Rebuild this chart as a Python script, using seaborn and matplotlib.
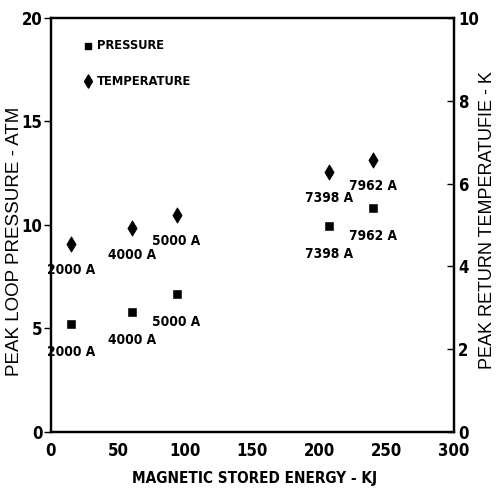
import os
import matplotlib
matplotlib.use("Agg")
import matplotlib.pyplot as plt
import matplotlib.font_manager as fm
import seaborn as sns
import pandas as pd

energy_kj = [15, 60, 93.5, 207, 239.5]
pressure_atm = [5.2, 5.8, 6.65, 9.95, 10.8]
temperature_k = [4.54, 4.92, 5.24, 6.29, 6.57]
currents = ["2000 A", "4000 A", "5000 A", "7398 A", "7962 A"]
x_ticks = [0, 50, 100, 150, 200, 250, 300]
left_ticks = [0, 5, 10, 15, 20]
right_ticks = [0, 2, 4, 6, 8, 10]

sns.set_style("white")
plt.rcParams["font.family"] = ["Liberation Sans", "DejaVu Sans"]
plt.rcParams["text.color"] = "black"

# pick a condensed bold face if one is installed
files = {os.path.basename(f.fname): f.fname for f in fm.fontManager.ttflist}
prefs = ["LiberationSansNarrow-Bold.ttf", "NotoSans-CondensedBold.ttf",
         "DejaVuSansCondensed-Bold.ttf", "RobotoCondensed-Bold.ttf",
         "OpenSans_Condensed-Bold.ttf"]
cond_file = next((files[p] for p in prefs if p in files), None)


def cfont(size):
    if cond_file:
        return fm.FontProperties(fname=cond_file, size=size)
    return fm.FontProperties(family=["Liberation Sans", "DejaVu Sans"],
                             weight="bold", size=size * 0.9)


def pfont(size):
    return fm.FontProperties(family=["Liberation Sans", "DejaVu Sans"], size=size)


df = pd.DataFrame({"energy": energy_kj, "pressure": pressure_atm,
                   "temperature": temperature_k, "current": currents})

fig = plt.figure(figsize=(4.99, 4.94), dpi=100)
ax = fig.add_axes([0.1022, 0.1255, 0.8076, 0.8381])
ax2 = ax.twinx()

sns.scatterplot(data=df, x="energy", y="pressure", marker="s", s=28,
                color="black", edgecolor="black", ax=ax, legend=False, zorder=3)
sns.scatterplot(data=df, x="energy", y="temperature", marker="d", s=60,
                color="black", edgecolor="black", ax=ax2, legend=False, zorder=3)

ax.set_xlim(0, 300)
ax.set_ylim(0, 20)
ax2.set_ylim(0, 10)
ax.set_xticks(x_ticks)
ax.set_yticks(left_ticks)
ax2.set_yticks(right_ticks)

ax.set_xticklabels([str(t) for t in x_ticks], fontproperties=cfont(12))
ax.set_yticklabels([str(t) for t in left_ticks], fontproperties=cfont(12))
ax2.set_yticklabels([str(t) for t in right_ticks], fontproperties=cfont(12))

ax.tick_params(axis="x", direction="in", length=5, width=1, pad=7, colors="black")
ax.tick_params(axis="y", direction="out", length=5, width=1, pad=1, colors="black")
ax2.tick_params(axis="y", direction="in", length=5, width=1, pad=3, colors="black")

for a in (ax, ax2):
    for sp in a.spines.values():
        sp.set_visible(True)
        sp.set_color("black")
        sp.set_linewidth(1.6)

ax.set_xlabel("MAGNETIC STORED ENERGY - KJ", fontproperties=cfont(11),
              color="black", va="center")
ax.xaxis.set_label_coords(0.504, -0.113)
ax.set_ylabel("PEAK LOOP PRESSURE - ATM", fontproperties=pfont(13.5),
              color="black", va="center")
ax.yaxis.set_label_coords(-0.09, 0.461)
ax2.set_ylabel("PEAK RETURN TEMPERATUFIE - K", fontproperties=pfont(13),
               color="black", rotation=90, va="center")
ax2.yaxis.set_label_coords(1.083, 0.512)

for e, p, c in zip(energy_kj, pressure_atm, currents):
    ax.annotate(c, (e, p), xytext=(0, -20), textcoords="offset points",
                fontproperties=cfont(9.8), ha="center", va="center")
for e, t, c in zip(energy_kj, temperature_k, currents):
    ax2.annotate(c, (e, t), xytext=(0, -19), textcoords="offset points",
                 fontproperties=cfont(9.8), ha="center", va="center")

# legend
ax.scatter([27.5], [18.65], marker="s", s=22, color="black")
ax.text(34, 18.65, "PRESSURE", fontproperties=cfont(9.3), va="center")
ax.scatter([27.5], [16.95], marker="d", s=45, color="black")
ax.text(34, 16.95, "TEMPERATURE", fontproperties=cfont(9.3), va="center")

fig.savefig("out.png", dpi=100)
